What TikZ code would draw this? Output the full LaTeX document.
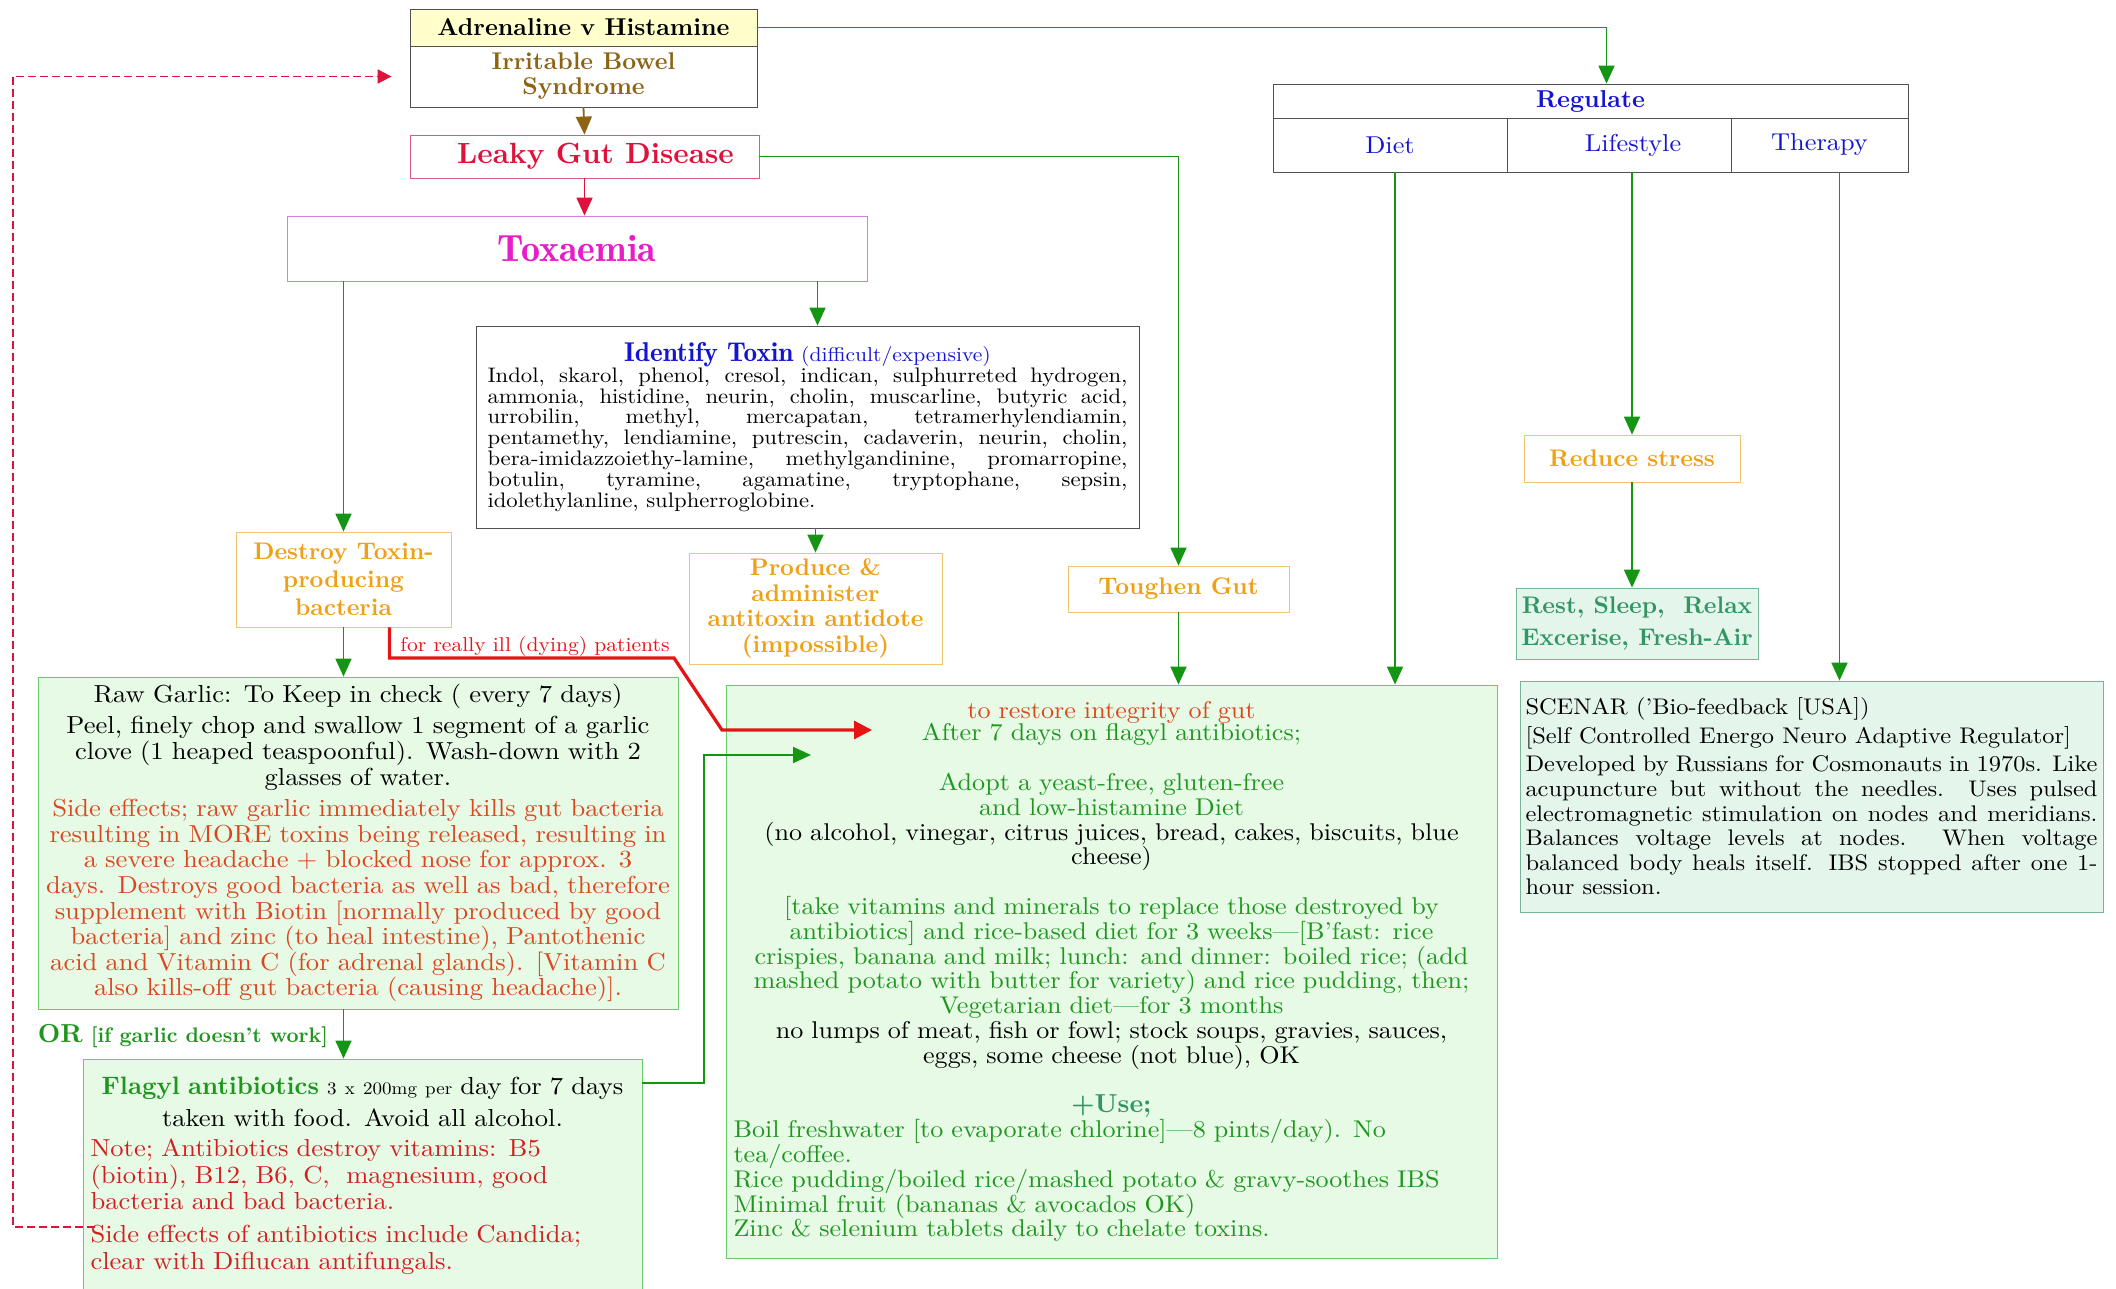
\documentclass[tikz,border=0pt]{standalone}
\usepackage{fontspec}
\setmainfont{lmroman10-regular.otf}[BoldFont=lmroman10-bold.otf, ItalicFont=lmroman10-italic.otf, BoldItalicFont=lmroman10-bolditalic.otf, UprightFeatures={FakeStretch=1.08}]
\newfontfamily\demifont{lmromandemi10-regular.otf}
\usetikzlibrary{arrows.meta}

\definecolor{flowgreen}{RGB}{20,150,20}
\definecolor{boxgreen}{RGB}{110,200,110}
\definecolor{fillgreen}{RGB}{230,250,230}
\definecolor{fillteal}{RGB}{228,245,235}
\definecolor{edgeteal}{RGB}{120,180,150}
\definecolor{txtgreen}{RGB}{30,150,30}
\definecolor{seagreen}{RGB}{50,150,100}
\definecolor{orangetxt}{RGB}{240,160,20}
\definecolor{orangeedge}{RGB}{240,195,110}
\definecolor{redorange}{RGB}{220,70,30}
\definecolor{notered}{RGB}{210,30,30}
\definecolor{linered}{RGB}{230,20,20}
\definecolor{crimson}{RGB}{220,20,60}
\definecolor{bluetxt}{RGB}{20,20,210}
\definecolor{magentatxt}{RGB}{230,30,200}
\definecolor{browntxt}{RGB}{140,100,20}
\definecolor{leakyedge}{RGB}{220,90,130}
\definecolor{toxedge}{RGB}{210,130,220}
\definecolor{headfill}{RGB}{255,255,204}
\definecolor{grayedge}{RGB}{80,80,80}

\begin{document}
\begin{tikzpicture}[x=0.5pt, y=-0.5pt,
    box/.style = {draw, inner sep=2pt, align=center},
    cell/.style = {box, draw=grayedge, text=bluetxt, minimum height=27pt, font=\fontsize{12.2}{13}\selectfont},
    orangebox/.style = {box, draw=orangeedge, text=orangetxt, font=\bfseries\fontsize{12}{14}\selectfont},
    greenbox/.style = {box, draw=boxgreen, fill=fillgreen},
    tealbox/.style = {box, draw=edgeteal, fill=fillteal},
    flow/.style = {draw=flowgreen, line width=0.9pt, -{Triangle[length=9pt, width=8pt]}},
    illarrow/.style = {draw=linered, line width=1.6pt, -{Triangle[length=9pt, width=9pt]}},
    backarrow/.style = {draw=crimson, line width=0.9pt, dash pattern=on 4pt off 2pt, -{Triangle[length=7pt, width=7pt]}}]
    \fill[white] (0,0) rectangle (2116,1289);
    \useasboundingbox (0,0) rectangle (2116,1289);

    \node[box, draw=grayedge, fill=headfill, minimum width=173.5pt, minimum height=18.5pt, font=\bfseries\fontsize{12.2}{13}\selectfont] (adren) at (583.5,27.5) {Adrenaline v Histamine};
    \node[box, draw=grayedge, text=browntxt, minimum width=173.5pt, minimum height=30.5pt, font=\bfseries\fontsize{12.1}{12.5}\selectfont] (ibs) at (583.5,76.5) {Irritable Bowel\\Syndrome};
    \node[box, draw=leakyedge, text=crimson, minimum width=174.5pt, minimum height=21.5pt, font=\bfseries\fontsize{14.6}{16}\selectfont] (leaky) at (584.5,156.5) {\hspace*{11pt}Leaky Gut Disease};
    \node[box, draw=toxedge, text=magentatxt, minimum width=290pt, minimum height=32.5pt, font=\demifont\fontsize{19}{20}\selectfont] (tox) at (577,248.5) {Toxaemia};

    \node[box, draw=grayedge, minimum width=331.5pt, minimum height=101pt, text width=320pt, align=justify, font=\fontsize{10.5}{10.4}\selectfont] (identify) at (807.5,427) {%
        {\centering{\color{bluetxt}\demifont\fontsize{13.6}{14}\selectfont Identify Toxin} {\color{bluetxt}\fontsize{10}{14}\selectfont (difficult/expensive)}\par}
        Indol, skarol, phenol, cresol, indican, sulphurreted hydrogen,\linebreak
        ammonia, histidine, neurin, cholin, muscarline, butyric acid,\linebreak
        urrobilin, methyl, mercapatan, tetramerhylendiamin,\linebreak
        pentamethy, lendiamine, putrescin, cadaverin, neurin, cholin,\linebreak
        bera-imidazzoiethy-lamine, methylgandinine, promarropine,\linebreak
        botulin, tyramine, agamatine, tryptophane, sepsin,\linebreak
        idolethylanline, sulpherroglobine.};

    \node[orangebox, minimum width=126.5pt, minimum height=55.5pt, font=\bfseries\fontsize{12}{12.8}\selectfont] (produce) at (815.5,608.5) {Produce \&\\administer\\antitoxin antidote\\(impossible)};
    \node[orangebox, minimum width=110.5pt, minimum height=23pt] (toughen) at (1178.5,589) {Toughen Gut};
    \node[orangebox, minimum width=107.5pt, minimum height=47.5pt] (destroy) at (343.5,579.5) {Destroy Toxin-\\producing\\bacteria};

    \node[greenbox, inner xsep=1pt, minimum width=320pt, minimum height=166pt, text width=318pt, font=\fontsize{12.3}{12.8}\selectfont] (garlic) at (358,843) {%
        Raw Garlic: To Keep in check ( every 7 days)\\[3pt]
        Peel, finely chop and swallow 1 segment of a garlic\\ clove (1 heaped teaspoonful). Wash-down with 2\\ glasses of water.\\[3pt]
        \color{redorange}Side effects; raw garlic immediately kills gut bacteria\\ resulting in MORE toxins being released, resulting in\\ a severe headache + blocked nose for approx. 3\\ days. Destroys good bacteria as well as bad, therefore\\ supplement with Biotin [normally produced by good\\ bacteria] and zinc (to heal intestine), Pantothenic\\ acid and Vitamin C (for adrenal glands). [Vitamin C\\ also kills-off gut bacteria (causing headache)].};

    \node[greenbox, minimum width=279.5pt, minimum height=116.5pt, text width=272pt, font=\fontsize{12.3}{13.3}\selectfont] (flagyl) at (362.5,1175.5) {%
        {\color{txtgreen}\bfseries\fontsize{12.6}{13.3}\selectfont Flagyl antibiotics} {\fontsize{8.8}{13.3}\selectfont 3 x 200mg per} day for 7 days\\[2.5pt]
        taken with food. Avoid all alcohol.\par\vspace{2pt}
        \raggedright\color{notered}
        Note; Antibiotics destroy vitamins: B5\\ (biotin), B12, B6, C,\ \ magnesium, good\\ bacteria and bad bacteria.\\[3pt]
        Side effects of antibiotics include Candida;\\ clear with Diflucan antifungals.\par};

    \node[greenbox, inner xsep=3pt, minimum width=385.5pt, minimum height=286.5pt, text width=378pt, font=\fontsize{12.1}{12.4}\selectfont] (diet) at (1111.5,971.5) {%
        {\color{redorange}to restore integrity of gut}\\[-1pt]
        {\color{txtgreen}After 7 days on flagyl antibiotics;}\\[12.4pt]
        {\color{txtgreen}Adopt a yeast-free, gluten-free\\ and low-histamine Diet}\\
        (no alcohol, vinegar, citrus juices, bread, cakes, biscuits, blue\\ cheese)\\[12.4pt]
        {\color{txtgreen}[take vitamins and minerals to replace those destroyed by\\ antibiotics] and rice-based diet for 3 weeks---[B'fast: rice\\ crispies, banana and milk; lunch: and dinner: boiled rice; (add\\ mashed potato with butter for variety) and rice pudding, then;\\ Vegetarian diet---for 3 months}\\
        no lumps of meat, fish or fowl; stock soups, gravies, sauces,\\ eggs, some cheese (not blue), OK\\[12.4pt]
        {\color{seagreen}\bfseries\fontsize{13}{12.4}\selectfont +Use;}\par
        \raggedright\color{txtgreen}
        Boil freshwater [to evaporate chlorine]---8 pints/day). No\\ tea/coffee.\\
        Rice pudding/boiled rice/mashed potato \& gravy-soothes IBS\\
        Minimal fruit (bananas \& avocados OK)\\
        Zinc \& selenium tablets daily to chelate toxins.\par};

    \node[box, draw=grayedge, text=bluetxt, minimum width=317.5pt, minimum height=17pt, font=\bfseries\fontsize{12.2}{13}\selectfont] (regulate) at (1590.5,101) {Regulate};
    \node[cell, minimum width=117pt] (dietcol) at (1390,145) {Diet};
    \node[cell, minimum width=112pt] (lifecol) at (1619,145) {\hspace*{14pt}Lifestyle};
    \node[cell, minimum width=88.5pt] (therapycol) at (1819.5,145) {Therapy};

    \node[orangebox, minimum width=108pt, minimum height=23.5pt] (reduce) at (1632,458.5) {Reduce stress};
    \node[tealbox, text=seagreen, minimum width=121pt, minimum height=35.5pt, font=\bfseries\fontsize{12}{16}\selectfont] (rest) at (1637,623.5) {Rest, Sleep,\ \ Relax\\Excerise, Fresh-Air};
    \node[tealbox, minimum width=291.5pt, minimum height=115.5pt, text width=286pt, align=justify, font=\fontsize{11.3}{12.3}\selectfont] (scenar) at (1811.5,796.5) {%
        SCENAR ('Bio-feedback [USA])\\[2pt]
        [Self Controlled Energo Neuro Adaptive Regulator]\\[2pt]
        Developed by Russians for Cosmonauts in 1970s. Like\linebreak
        acupuncture but without the needles. Uses pulsed\linebreak
        electromagnetic stimulation on nodes and meridians.\linebreak
        Balances voltage levels at nodes. When voltage\linebreak
        balanced body heals itself. IBS stopped after one 1-\linebreak
        hour session.};

    \node[text=linered, font=\fontsize{10}{11}\selectfont] (illlabel) at (535,646) {for really ill (dying) patients};
    \node[text=txtgreen, font=\bfseries\fontsize{10.5}{12}\selectfont] (orlabel) at (183,1036) {{\fontsize{13}{14}\selectfont OR} [if garlic doesn't work]};

    \coordinate (flagbend) at (704,755);
    \coordinate (flagtip) at (811,755);
    \coordinate (illknee) at (674,658);
    \coordinate (illfoot) at (722,730);
    \coordinate (illtip) at (872,730);
    \coordinate (sidestart) at (95,1227);
    \coordinate (sidecorner) at (13,1227);

    \draw[flow] (adren.east) -| ([xshift=8pt]regulate.north);
    \draw[flow, draw=browntxt] (ibs.south) -- (leaky.north);
    \draw[flow, draw=crimson] (leaky.south) -- (leaky.south |- tox.north);
    \draw[flow] (leaky.east) -| (toughen.north);
    \draw[flow] (tox.south -| destroy.north) -- (destroy.north);
    \draw[flow] ([xshift=5pt]identify.north |- tox.south) -- ([xshift=5pt]identify.north);
    \draw[flow] (identify.south -| produce.north) -- (produce.north);
    \draw[flow] (destroy.south) -- (destroy.south |- garlic.north);
    \draw[flow] (destroy.south |- garlic.south) -- (destroy.south |- flagyl.north);
    \draw[flow] ([yshift=-12pt]flagyl.north east) -| (flagbend) -- (flagtip);
    \draw[flow] (toughen.south) -- (toughen.south |- diet.north);
    \draw[flow] ([xshift=2.5pt]dietcol.south) -- ([xshift=2.5pt]dietcol.south |- diet.north);
    \draw[flow] (lifecol.south -| reduce.north) -- (reduce.north);
    \draw[flow] (reduce.south) -- (reduce.south |- rest.north);
    \draw[flow] ([xshift=10pt]therapycol.south) -- ([xshift=10pt]therapycol.south |- scenar.north);
    \draw[illarrow] ([xshift=23pt]destroy.south) |- (illknee) -- (illfoot) -- (illtip);
    \draw[backarrow] (sidestart) -- (sidecorner) |- ([xshift=-9pt]ibs.west);
\end{tikzpicture}
\end{document}
